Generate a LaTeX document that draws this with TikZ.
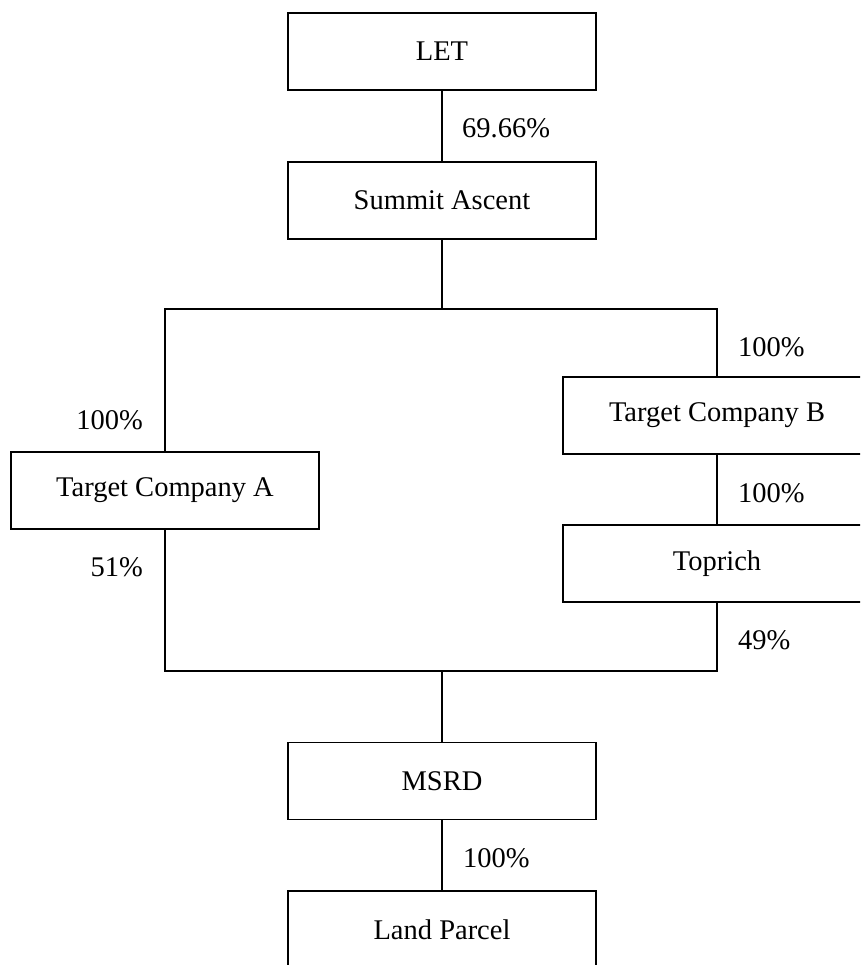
\documentclass[tikz,border=0pt]{standalone}
\usepackage{fontspec}
\setmainfont{Liberation Serif}
\begin{document}
\begin{tikzpicture}[x=1pt,y=-1pt,
  entity/.style={draw, line width=1.6pt, minimum width=308pt, minimum height=77pt, inner sep=0pt, font=\fontsize{28.5}{34}\selectfont},
  pct/.style={inner sep=0pt, font=\fontsize{28.5}{34}\selectfont},
  link/.style={line width=1.6pt}]
\useasboundingbox (0,0) rectangle (860,965);
\clip (0,0) rectangle (860,965);
\node[entity] (let) at (442,51.5) {LET};
\node[entity] (summit) at (442,200.5) {Summit Ascent};
\node[entity] (tca) at (165,490.5) {Target Company A};
\node[entity] (tcb) at (717,415.5) {Target Company B};
\node[entity] (toprich) at (717,563.5) {Toprich};
\node[entity] (msrd) at (442,781) {MSRD};
\node[entity] (land) at (442,929.5) {Land Parcel};
\coordinate (j1) at (442,309);
\coordinate (j2) at (442,671);
\draw[link] (let.south) -- (summit.north);
\draw[link] (summit.south) -- (j1);
\draw[link] (tca.north) |- (j1) -| (tcb.north);
\draw[link] (tcb.south) -- (toprich.north);
\draw[link] (tca.south) |- (j2) -| (toprich.south);
\draw[link] (j2) -- (msrd.north);
\draw[link] (msrd.south) -- (land.north);
\node[pct, anchor=west] (p1) at (462,128) {69.66\%};
\node[pct, anchor=west] (p2) at (738,347) {100\%};
\node[pct, anchor=east] (p3) at (143,420) {100\%};
\node[pct, anchor=west] (p4) at (738,493) {100\%};
\node[pct, anchor=east] (p5) at (143,567) {51\%};
\node[pct, anchor=west] (p6) at (738,640) {49\%};
\node[pct, anchor=west] (p7) at (463,858) {100\%};
\end{tikzpicture}
\end{document}
